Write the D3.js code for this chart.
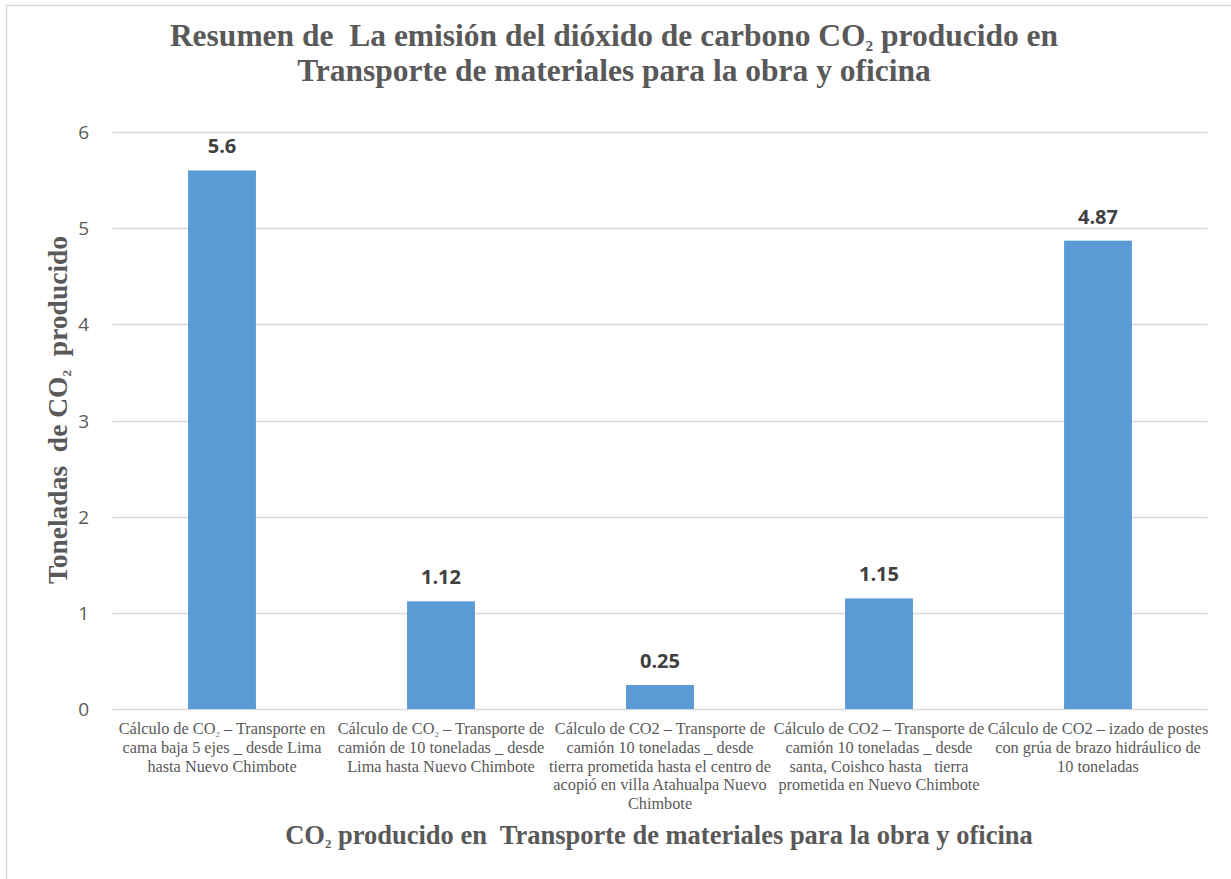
<!DOCTYPE html>
<html><head><meta charset="utf-8">
<script src="https://cdn.jsdelivr.net/npm/d3@7"></script>
<style>body{margin:0;background:#fff}</style>
</head><body>
<svg id="c" width="1231" height="879"></svg>
<script>
const categories = [
  ["Cálculo de CO₂ – Transporte en","cama baja 5 ejes _ desde Lima","hasta Nuevo Chimbote"],
  ["Cálculo de CO₂ – Transporte de","camión de 10 toneladas _ desde","Lima hasta Nuevo Chimbote"],
  ["Cálculo de CO2 – Transporte de","camión 10 toneladas _ desde","tierra prometida hasta el centro de","acopió en villa Atahualpa Nuevo","Chimbote"],
  ["Cálculo de CO2 – Transporte de","camión 10 toneladas _ desde","santa, Coishco hasta   tierra","prometida en Nuevo Chimbote"],
  ["Cálculo de CO2 – izado de postes","con grúa de brazo hidráulico de","10 toneladas"]
];
const values = [5.6, 1.12, 0.25, 1.15, 4.87];
const valueLabels = ["5.6","1.12","0.25","1.15","4.87"];
const yTicks = [0,1,2,3,4,5,6];
const titleLines = ["Resumen de  La emisión del dióxido de carbono CO₂ producido en","Transporte de materiales para la obra y oficina"];
const yTitle = "Toneladas  de CO₂  producido";
const xTitle = "CO₂ producido en  Transporte de materiales para la obra y oficina";

const svg = d3.select("#c");
const L = 112.5, R = 1207.5, T = 132, B = 709;
const x = d3.scaleBand().domain(d3.range(values.length)).range([L,R]).paddingInner(0.69).paddingOuter(0.345);
const y = d3.scaleLinear().domain([0,6]).range([B,T]);
const serif = "'Liberation Serif', 'Times New Roman', serif";
const sans = "'Open Sans', 'DejaVu Sans', sans-serif";

// write a string into a text/tspan selection, shrinking the subscript two
function writeSub(sel, str){
  const parts = str.split("₂");
  parts.forEach((p,k)=>{
    if(p) sel.append("tspan").text(p);
    if(k<parts.length-1) sel.append("tspan").attr("font-size","0.8em").text("₂");
  });
}

// outer border
svg.append("path").attr("d","M6.5,879 L6.5,5.5 L1231,5.5").attr("fill","none").attr("stroke","#d9d9d9").attr("stroke-width",1.5);

// gridlines
svg.append("g").selectAll("line").data(yTicks).join("line")
  .attr("x1",L).attr("x2",R).attr("y1",d=>Math.round(y(d))+0.5).attr("y2",d=>Math.round(y(d))+0.5)
  .attr("stroke","#d9d9d9").attr("stroke-width",1.5);

// y tick labels
svg.append("g").selectAll("text").data(yTicks).join("text")
  .attr("x",89).attr("y",d=>y(d)+7).attr("text-anchor","end")
  .attr("font-family",sans).attr("font-size",19).attr("fill","#595959")
  .text(d=>d);

// bars
svg.append("g").selectAll("rect").data(values).join("rect")
  .attr("x",(d,i)=>x(i)).attr("width",x.bandwidth())
  .attr("y",d=>y(d)).attr("height",d=>B-y(d)).attr("fill","#5b9bd5");

// value labels
svg.append("g").selectAll("text").data(values).join("text")
  .attr("x",(d,i)=>x(i)+x.bandwidth()/2).attr("y",d=>y(d)-17).attr("text-anchor","middle")
  .attr("font-family",sans).attr("font-weight","bold").attr("font-size",20).attr("fill","#404040")
  .text((d,i)=>valueLabels[i]);

// category labels
const cat = svg.append("g").selectAll("text").data(categories).join("text")
  .attr("text-anchor","middle").attr("font-family",serif)
  .attr("font-size",16.3).attr("fill","#595959").attr("xml:space","preserve");
cat.each(function(lines,i){
  const t = d3.select(this);
  lines.forEach((ln,j)=>{
    const ts = t.append("tspan").attr("x",x(i)+x.bandwidth()/2).attr("y",734+j*18.8);
    writeSub(ts, ln);
  });
});

// title
const tt = svg.append("text").attr("text-anchor","middle").attr("font-family",serif)
  .attr("font-weight","bold").attr("font-size",31.5).attr("fill","#595959").attr("xml:space","preserve");
titleLines.forEach((ln,j)=>{
  const ts = tt.append("tspan").attr("x",614).attr("y",46+j*35);
  writeSub(ts, ln);
});

// y title
const yt = svg.append("text").attr("transform","translate(67,410) rotate(-90)").attr("text-anchor","middle")
  .attr("font-family",serif).attr("font-weight","bold").attr("font-size",27.5)
  .attr("fill","#595959").attr("xml:space","preserve");
writeSub(yt, yTitle);

// x title
const xt = svg.append("text").attr("x",659).attr("y",844).attr("text-anchor","middle")
  .attr("font-family",serif).attr("font-weight","bold").attr("font-size",26.5)
  .attr("fill","#595959").attr("xml:space","preserve");
writeSub(xt, xTitle);
</script>
</body></html>
